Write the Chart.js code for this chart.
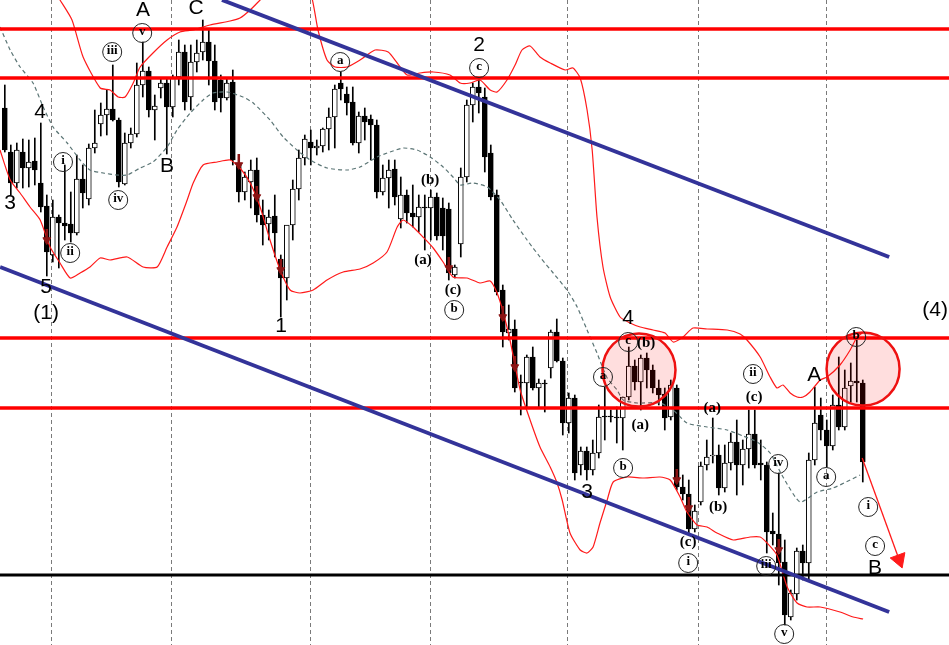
<!DOCTYPE html>
<html>
<head>
<meta charset="utf-8">
<script src="https://cdn.jsdelivr.net/npm/chart.js@4.4.1/dist/chart.umd.min.js"></script>
<style>
  body { margin: 0; background: #fff; }
  #wrap { width: 949px; height: 645px; }
</style>
</head>
<body>
<div id="wrap"><canvas id="myChart"></canvas></div>
<script>
// levels are read off the picture, counted downward from the top edge,
// so a smaller number means a higher price (y axis is reversed)
const open  = [108,152,183,152,168,161,183,206,255,217,223,224,233,179,199,148,124,115,109,120,184,143,134,85,71,110,88,83,107,77,52,97,62,52,42,61,80,98,82,163,192,182,170,215,224,216,259,278,225,189,158,142,148,146,129,117,83,94,102,143,116,119,125,192,178,169,219,195,213,217,207,208,197,208,209,275,244,177,105,87,97,153,195,290,333,329,382,383,357,388,383,368,332,361,423,398,465,451,470,453,416,416,417,418,397,366,382,358,370,388,394,417,388,487,494,529,502,465,456,455,488,463,442,465,449,434,463,465,531,534,562,617,594,551,563,460,415,430,446,405,427,386,381,383];
const high  = [85,145,143,139,140,138,123,195,200,215,165,192,155,165,144,110,103,90,65,118,133,128,63,42,67,95,79,78,75,40,45,45,40,20,30,45,75,78,70,157,172,160,158,200,210,195,255,250,180,150,135,130,140,128,108,85,72,87,87,112,108,115,120,165,160,160,177,190,185,195,195,190,193,198,203,265,168,100,83,80,88,145,190,285,305,320,375,355,347,379,380,330,319,358,393,395,447,447,440,405,387,410,407,397,347,360,355,353,365,380,388,380,385,475,480,505,462,440,418,445,445,433,420,440,410,410,440,462,513,473,540,590,548,545,453,387,398,420,395,357,370,363,340,380];
const low   = [152,195,188,188,187,185,212,276,262,268,240,242,235,208,205,153,136,135,121,187,185,148,137,97,117,140,98,154,117,85,110,110,72,60,85,110,112,100,165,202,200,208,222,245,240,257,317,300,240,200,165,165,155,152,150,148,100,115,145,153,140,160,198,195,208,205,228,223,227,232,250,240,240,250,280,278,257,182,122,113,172,200,295,347,340,392,415,408,390,408,412,378,362,435,433,480,475,480,475,458,440,422,443,450,400,390,410,388,393,405,430,420,490,500,533,532,505,470,463,495,492,470,495,485,468,468,480,553,545,585,625,620,600,580,580,465,440,467,450,430,430,402,402,482];
const close = [150,183,150,168,162,170,207,252,217,223,226,233,179,193,148,143,115,109,120,182,143,134,85,71,110,106,83,107,78,52,102,62,53,42,61,102,98,83,160,192,177,170,215,225,217,233,278,225,189,158,139,148,146,129,117,89,89,103,143,116,122,125,192,178,170,197,195,213,217,207,208,197,236,236,273,267,177,105,87,93,157,197,292,332,329,388,383,357,388,383,384,332,361,423,398,473,451,470,453,417,417,417,418,397,366,382,358,370,388,395,418,385,487,494,529,511,466,457,455,488,463,442,465,449,434,465,465,532,534,563,615,593,551,563,460,423,430,446,405,427,388,381,383,462];

// Bollinger band, read at chosen candle positions
const upperX = [-0.8,5.05,9.2,11.2,13.05,15.9,17.55,18.9,20.05,21.4,22.55,24.7,27.05,29.2,31.4,34.2,37.55,39.2,40.9,42.55,45.05,48.4,50.9,52.2,53.7,55.05,57.05,59.2,61.7,63.9,65.4,67.05,69.2,71.4,74.2,75.9,77.55,79.2,80.9,82.05,83.7,85.05,86.2,87.55,89.2,90.9,93.4,94.7,95.9,97.05,97.9,98.7,99.7,100.9,102.55,104.2,105.9,108.05,110.05,111.4,113.05,114.7,117.05,120.4,122.55,123.7,125.9,127.55,128.7,129.7,130.9,132.05,133.05,134.2,135.9,137.05,139.2,140.9,142.05,142.9];
const upperY = [-90,-40,0,20,57,88,90,97,97,83,67,53,40,32,30,25,21,18,10,0,-15,-20,-8,30,60,67,67,60,50,52,63,75,73,72,75,83,83,80,90,92,80,65,50,46,57,63,70,68,78,110,150,217,267,297,317,323,327,330,333,342,337,328,329,330,334,340,357,377,388,385,393,397,397,392,380,377,365,350,337,333];
const middleX = [-0.8,0.9,2.55,4.7,6.4,8.05,10.4,12.55,14.2,16.4,18.7,20.4,22.55,24.7,27.05,28.7,30.9,33.05,34.7,37.05,39.7,41.4,44.2,46.4,48.7,50.9,53.7,57.05,59.2,62.05,64.2,66.4,68.7,70.9,73.05,74.7,75.9,78.05,80.4,82.55,84.7,87.05,89.2,91.4,93.7,95.4,97.05,98.7,100.4,102.05,103.05,105.4,109.2,111.4,113.7,117.05,120.4,123.05,125.4,127.55,129.7,132.55,135.4,138.05,140.9,142.55];
const middleY = [27,50,67,83,107,127,143,160,170,173,175,175,168,162,147,130,113,100,93,92,97,103,120,137,150,160,168,170,167,157,152,148,150,157,167,177,185,183,187,200,220,240,257,273,290,307,330,353,378,390,400,403,403,410,423,427,430,436,442,453,477,502,492,488,480,475];
const lowerX = [-0.8,0.9,2.55,4.2,5.9,7.55,9.2,10.9,12.55,14.2,15.9,17.55,20.4,23.05,25.4,27.05,28.7,30.4,31.4,33.05,35.4,37.55,39.2,40.9,42.55,44.2,45.9,47.55,49.2,51.4,53.7,56.4,59.2,61.4,63.7,65.4,66.4,68.05,69.7,71.4,73.05,74.7,77.05,79.2,80.9,82.05,83.05,84.2,85.9,87.55,89.2,90.9,92.05,92.9,94.2,95.9,97.05,98.05,99.2,100.4,101.4,103.7,106.4,109.2,110.9,112.55,113.7,115.4,117.05,118.7,121.4,124.2,125.9,127.05,128.7,130.4,132.05,133.7,135.9,139.2,141.4,143.05];
const lowerY = [150,180,193,207,220,247,263,278,273,267,258,260,257,267,267,247,227,200,183,165,162,160,168,183,207,240,270,290,293,290,280,272,269,263,252,227,220,227,237,248,262,277,278,283,281,293,312,340,390,420,447,467,483,500,533,550,553,547,523,500,482,477,478,477,480,497,512,525,527,533,540,537,537,543,555,587,603,607,607,612,617,619];

const supportLevels = [29, 78, 338, 408];   // red horizontals
const baseLevel = 575;                        // black horizontal
const gridIdx = [7.8, 27.8, 50.9, 70.9, 93.8, 115.7, 136.9];

// small dark red arrows: candle index and level of the arrow head
const arrowIdx = [7, 39, 42, 46, 74, 83, 85, 112, 114, 129];
const arrowLvl = [240, 165, 197, 270, 268, 317, 367, 480, 508, 550];

// wave labels: text, candle position, level
const plainLabels = [
  ['A', 23.05, 10], ['C', 31.9, 8], ['4', 5.9, 112], ['3', 0.9, 203], ['B', 27.05, 166],
  ['5', 6.9, 287], ['(1)', 6.9, 313], ['1', 46.05, 326], ['2', 79.05, 45], ['3', 97.05, 492],
  ['4', 103.9, 318], ['(4)', 155.05, 310], ['A', 134.9, 375], ['B', 145.05, 568]
];
const circledLabels = [
  ['v', 22.9, 33], ['iii', 17.9, 52], ['i', 9.7, 162], ['ii', 10.9, 253], ['iv', 18.9, 200],
  ['a', 55.9, 62], ['c', 79.05, 68], ['b', 74.9, 310], ['a', 99.7, 377], ['c', 103.9, 342],
  ['b', 103.05, 468], ['ii', 124.7, 374], ['iv', 128.9, 464], ['iii', 126.9, 566], ['v', 129.9, 634],
  ['i', 113.9, 563], ['a', 136.9, 477], ['b', 141.9, 337], ['i', 143.9, 507], ['c', 145.05, 546]
];
const parenLabels = [
  ['(b)', 70.9, 180], ['(a)', 69.7, 260], ['(c)', 74.7, 290], ['(b)', 106.9, 343], ['(a)', 105.9, 425],
  ['(a)', 117.9, 408], ['(c)', 124.9, 397], ['(b)', 118.9, 507], ['(c)', 113.9, 542]
];

const X_MIN = -0.8, X_MAX = 157.37;

function flat(level) {
  return [{ x: X_MIN, y: level }, { x: X_MAX, y: level }];
}
function pairs(xs, ys) {
  return xs.map((v, k) => ({ x: v, y: ys[k] }));
}

const labelPlugin = {
  id: 'waveLabels',
  afterDatasetsDraw(chart) {
    const { ctx, scales: { x, y } } = chart;
    ctx.save();
    ctx.fillStyle = '#000';
    ctx.textAlign = 'center';
    ctx.textBaseline = 'middle';
    ctx.font = '21px "Liberation Sans", Arial, sans-serif';
    plainLabels.forEach(([t, i, v]) => ctx.fillText(t, x.getPixelForValue(i), y.getPixelForValue(v)));
    ctx.font = 'bold 15px "Liberation Serif", "Times New Roman", serif';
    parenLabels.forEach(([t, i, v]) => ctx.fillText(t, x.getPixelForValue(i), y.getPixelForValue(v)));
    ctx.font = 'bold 13px "Liberation Serif", "Times New Roman", serif';
    ctx.strokeStyle = '#222';
    ctx.lineWidth = 1;
    circledLabels.forEach(([t, i, v]) => {
      const px = x.getPixelForValue(i), py = y.getPixelForValue(v);
      ctx.beginPath();
      ctx.arc(px, py, 9.5, 0, Math.PI * 2);
      ctx.stroke();
      ctx.fillText(t, px, py - 1);
    });
    ctx.restore();
  }
};

const data = {
  datasets: [
    {
      type: 'bar',
      label: 'wick',
      data: open.map((o, i) => ({ x: i, y: [high[i], low[i]] })),
      backgroundColor: '#000',
      barThickness: 1,
      grouped: false,
      order: 30,
    },
    {
      type: 'bar',
      label: 'body',
      data: open.map((o, i) => ({ x: i, y: [o, close[i]] })),
      backgroundColor: open.map((o, i) => (close[i] < o ? '#fff' : '#000')),
      borderColor: '#000',
      borderWidth: 1,
      borderSkipped: false,
      barThickness: 5,
      grouped: false,
      order: 29,
    },
    {
      type: 'line', label: 'upper', data: pairs(upperX, upperY),
      borderColor: '#ff1a1a', borderWidth: 1.2, pointRadius: 0, tension: 0.2, order: 20,
    },
    {
      type: 'line', label: 'lower', data: pairs(lowerX, lowerY),
      borderColor: '#ff1a1a', borderWidth: 1.2, pointRadius: 0, tension: 0.2, order: 20,
    },
    {
      type: 'line', label: 'middle', data: pairs(middleX, middleY),
      borderColor: '#5b7575', borderWidth: 1.2, borderDash: [4, 3], pointRadius: 0, tension: 0.2, order: 20,
    },
    ...supportLevels.map((lv) => ({
      type: 'line', label: 'level', data: flat(lv),
      borderColor: '#ff0000', borderWidth: 3.5, pointRadius: 0, order: 15,
    })),
    {
      type: 'line', label: 'base', data: flat(baseLevel),
      borderColor: '#000', borderWidth: 3, pointRadius: 0, order: 15,
    },
    {
      type: 'line', label: 'channel top', data: [{ x: 36.2, y: 0 }, { x: 147.4, y: 257 }],
      borderColor: '#333399', borderWidth: 4, pointRadius: 0, order: 14,
    },
    {
      type: 'line', label: 'channel bottom', data: [{ x: -0.78, y: 267 }, { x: 147.4, y: 612 }],
      borderColor: '#333399', borderWidth: 4, pointRadius: 0, order: 14,
    },
    {
      type: 'scatter', label: 'zones', data: [{ x: 105.7, y: 370 }, { x: 143.05, y: 369 }],
      pointRadius: 36.5, pointBackgroundColor: 'rgba(255,0,0,0.13)', pointBorderColor: '#ee1111',
      pointBorderWidth: 2.5, order: 10,
    },
    {
      type: 'scatter', label: 'arrow stem', data: arrowIdx.map((v, k) => ({ x: v, y: arrowLvl[k] - 6 })),
      pointStyle: 'line', rotation: 90, pointRadius: 5, pointBorderColor: '#8b1414', pointBorderWidth: 2.5, order: 9,
    },
    {
      type: 'scatter', label: 'arrow head', data: arrowIdx.map((v, k) => ({ x: v, y: arrowLvl[k] })),
      pointStyle: 'triangle', rotation: 180, pointRadius: 4.5, pointBackgroundColor: '#8b1414',
      pointBorderColor: '#8b1414', pointBorderWidth: 1, order: 8,
    },
    {
      type: 'line', label: 'projection', data: [{ x: 142.9, y: 458 }, { x: 149.05, y: 559.5 }],
      borderColor: '#ff1a1a', borderWidth: 1.3, pointRadius: 0, order: 7,
    },
    {
      type: 'scatter', label: 'projection head', data: [{ x: 149.05, y: 559.5 }],
      pointStyle: 'triangle', rotation: 160, pointRadius: 9, pointBackgroundColor: '#ff1a1a',
      pointBorderColor: '#ff1a1a', pointBorderWidth: 1, order: 6,
    },
  ],
};

const config = {
  type: 'bar',
  data,
  options: {
    responsive: true,
    maintainAspectRatio: false,
    animation: false,
    layout: { padding: 0, autoPadding: false },
    plugins: { legend: { display: false }, tooltip: { enabled: false } },
    scales: {
      x: {
        type: 'linear',
        min: X_MIN,
        max: X_MAX,
        offset: false,
        afterBuildTicks: (axis) => { axis.ticks = gridIdx.map((v) => ({ value: v })); },
        ticks: { display: false },
        grid: { color: '#7a7a7a', lineWidth: 1, drawTicks: false, offset: false },
        border: { display: false, dash: [4, 3] },
      },
      y: {
        reverse: true,
        min: 0,
        max: 645,
        display: false,
      },
    },
  },
  plugins: [labelPlugin],
};

const myChart = new Chart(document.getElementById('myChart'), config);
</script>
</body>
</html>
